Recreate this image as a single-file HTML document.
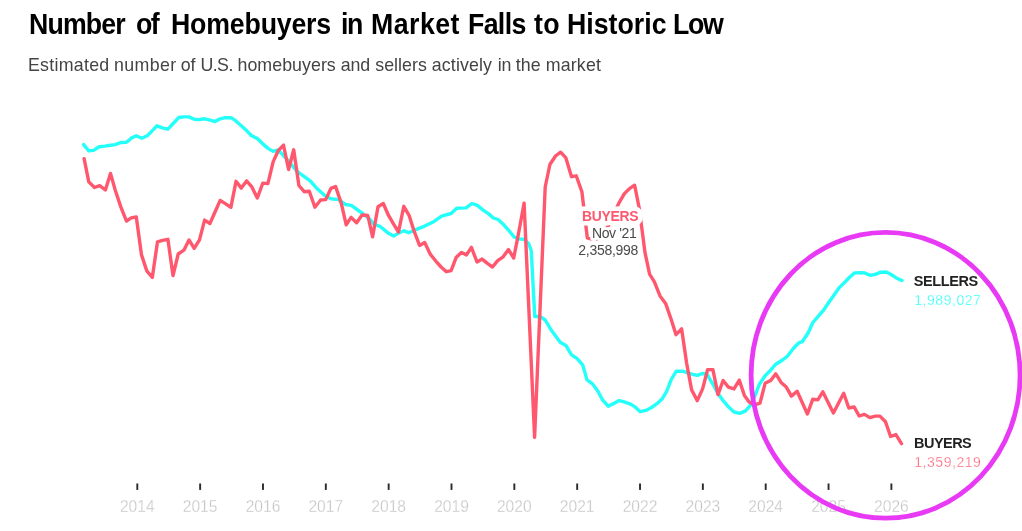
<!DOCTYPE html>
<html><head><meta charset="utf-8"><title>Number of Homebuyers in Market Falls to Historic Low</title>
<style>
html,body{margin:0;padding:0;background:#fff;}
body{width:1022px;height:531px;overflow:hidden;position:relative;font-family:"Liberation Sans",Arial,sans-serif;}
h1{position:absolute;left:0;top:6.6px;margin:0;font-size:29.2px;line-height:34px;font-weight:700;color:#000;white-space:nowrap;width:1022px;height:34px;}
h1 span,p.sub span{position:absolute;top:0;white-space:nowrap;}
h1 span{display:inline-block;transform:scaleX(0.915);transform-origin:0 0;}
p.sub{position:absolute;left:0;top:52.7px;margin:0;font-size:17.8px;line-height:24px;color:#444;white-space:nowrap;width:1022px;height:24px;}
svg{position:absolute;left:0;top:0;}
svg text{font-family:"Liberation Sans",Arial,sans-serif;}
.yr text{font-size:15.6px;fill:#c4c4c4;}
.thin{stroke:#fff;stroke-width:0.3px;}
.halo{paint-order:stroke fill;stroke:#fff;stroke-width:7.6px;stroke-linejoin:round;}
</style></head><body>
<h1><span style="left:28.58px;letter-spacing:-0.907px">Number</span> <span style="left:136.12px;letter-spacing:-1.600px">of</span> <span style="left:171.43px;letter-spacing:-0.194px">Homebuyers</span> <span style="left:340.65px;letter-spacing:-1.585px">in</span> <span style="left:370.80px;letter-spacing:0.525px">Market</span> <span style="left:467.70px;letter-spacing:-0.710px">Falls</span> <span style="left:533.98px;letter-spacing:0.328px">to</span> <span style="left:566.50px;letter-spacing:0.023px">Historic</span> <span style="left:673.30px;letter-spacing:-1.448px">Low</span></h1>
<p class="sub"><span style="left:27.97px;letter-spacing:0.275px">Estimated</span> <span style="left:114.00px;letter-spacing:0.370px">number</span> <span style="left:180.75px;letter-spacing:-0.200px">of</span> <span style="left:200.40px;letter-spacing:-0.550px">U.S.</span> <span style="left:237.50px;letter-spacing:0.044px">homebuyers</span> <span style="left:340.75px;letter-spacing:-0.125px">and</span> <span style="left:375.25px;letter-spacing:0.025px">sellers</span> <span style="left:431.82px;letter-spacing:0.129px">actively</span> <span style="left:497.67px;letter-spacing:-0.200px">in</span> <span style="left:515.78px;letter-spacing:0.025px">the</span> <span style="left:545.70px;letter-spacing:0.180px">market</span></p>
<svg width="1022" height="531" viewBox="0 0 1022 531">
<g class="ticks">
<rect x="136.35" y="483.5" width="1.9" height="6.4" fill="#2a2a2a"/>
<rect x="199.19" y="483.5" width="1.9" height="6.4" fill="#2a2a2a"/>
<rect x="262.03" y="483.5" width="1.9" height="6.4" fill="#2a2a2a"/>
<rect x="324.87" y="483.5" width="1.9" height="6.4" fill="#2a2a2a"/>
<rect x="387.71" y="483.5" width="1.9" height="6.4" fill="#2a2a2a"/>
<rect x="450.55" y="483.5" width="1.9" height="6.4" fill="#2a2a2a"/>
<rect x="513.39" y="483.5" width="1.9" height="6.4" fill="#2a2a2a"/>
<rect x="576.23" y="483.5" width="1.9" height="6.4" fill="#2a2a2a"/>
<rect x="639.07" y="483.5" width="1.9" height="6.4" fill="#2a2a2a"/>
<rect x="701.91" y="483.5" width="1.9" height="6.4" fill="#2a2a2a"/>
<rect x="764.75" y="483.5" width="1.9" height="6.4" fill="#2a2a2a"/>
<rect x="827.59" y="483.5" width="1.9" height="6.4" fill="#2a2a2a"/>
<rect x="890.43" y="483.5" width="1.9" height="6.4" fill="#2a2a2a"/>
</g>
<g class="yr thin">
<text x="137.3" y="512.2" text-anchor="middle">2014</text>
<text x="200.1" y="512.2" text-anchor="middle">2015</text>
<text x="263.0" y="512.2" text-anchor="middle">2016</text>
<text x="325.8" y="512.2" text-anchor="middle">2017</text>
<text x="388.7" y="512.2" text-anchor="middle">2018</text>
<text x="451.5" y="512.2" text-anchor="middle">2019</text>
<text x="514.3" y="512.2" text-anchor="middle">2020</text>
<text x="577.2" y="512.2" text-anchor="middle">2021</text>
<text x="640.0" y="512.2" text-anchor="middle">2022</text>
<text x="702.9" y="512.2" text-anchor="middle">2023</text>
<text x="765.7" y="512.2" text-anchor="middle">2024</text>
<text x="828.5" y="512.2" text-anchor="middle">2025</text>
<text x="891.4" y="512.2" text-anchor="middle">2026</text>
</g>
<path d="M83.6,144.6 L88.8,150.8 L93.5,150.4 L99.2,146.7 L104.8,146.1 L110.5,145.2 L115.2,144.6 L120.8,142.5 L126.5,142.2 L132.1,137.6 L136.3,135.8 L141.9,138.2 L147.2,135.8 L151.9,131.1 L157.0,125.8 L162.2,127.9 L167.9,129.2 L173.2,123.5 L178.8,117.5 L183.9,116.9 L189.0,116.9 L194.2,119.2 L199.5,119.6 L204.6,118.8 L210.2,120.1 L215.0,121.6 L220.2,118.8 L225.3,117.7 L231.0,117.7 L235.6,120.7 L241.3,125.8 L247.0,131.1 L251.6,135.8 L257.3,138.6 L262.5,143.6 L268.0,148.4 L273.2,151.4 L278.2,149.8 L287.6,160.0 L297.0,171.4 L310.2,180.8 L315.9,187.4 L325.3,195.9 L330.9,198.7 L338.5,199.6 L345.6,204.5 L351.3,205.4 L362.6,213.5 L370.1,219.5 L373.9,224.2 L380.5,226.7 L388.9,233.6 L393.6,236.1 L398.4,233.1 L404.0,230.8 L408.7,232.7 L415.3,229.9 L424.7,226.1 L434.1,221.4 L441.6,216.1 L451.1,213.5 L456.7,208.2 L466.1,207.9 L471.8,203.5 L477.4,205.4 L483.1,210.1 L488.7,213.9 L493.4,218.0 L498.1,219.5 L503.8,224.8 L509.4,231.2 L514.1,237.0 L518.8,238.9 L524.1,239.3 L528.8,243.8 L531.2,250.5 L534.8,316.6 L540.0,316.3 L545.2,320.0 L550.8,329.4 L560.2,342.2 L565.9,345.4 L571.5,354.8 L577.2,358.6 L582.8,365.2 L587.0,379.9 L592.2,383.6 L597.9,391.2 L602.6,400.0 L608.2,406.2 L613.9,403.4 L619.0,400.6 L624.2,401.9 L629.9,403.8 L634.6,406.6 L640.2,411.7 L645.9,410.4 L651.5,407.5 L657.2,403.4 L662.3,398.7 L666.6,391.5 L671.3,379.3 L676.3,371.2 L682.4,371.1 L687.9,372.9 L692.6,374.4 L697.3,375.4 L702.0,373.5 L706.7,373.9 L712.4,383.3 L718.0,393.6 L723.6,401.2 L728.4,406.8 L734.0,411.9 L739.6,413.4 L745.3,411.2 L750.0,405.9 L754.7,396.5 L759.4,384.2 L765.1,375.8 L770.7,370.1 L775.4,364.5 L782.9,359.8 L787.6,356.0 L793.3,348.5 L798.9,342.8 L802.6,341.3 L808.2,332.8 L812.9,322.5 L818.6,315.9 L824.2,309.3 L828.9,302.3 L834.6,294.2 L839.3,287.6 L845.0,282.0 L849.6,277.3 L854.4,273.0 L860.0,272.6 L864.7,273.0 L870.4,275.4 L876.0,274.1 L880.7,272.2 L886.4,272.0 L891.1,274.5 L896.7,278.2 L902.0,280.5" fill="none" stroke="#24fff9" stroke-width="3.4" stroke-linejoin="round" stroke-linecap="round"/>
<path d="M84.1,158.7 L88.8,181.9 L94.5,187.5 L99.7,185.6 L105.4,190.0 L110.5,173.4 L115.2,190.0 L120.8,206.9 L126.5,221.1 L131.2,217.9 L136.3,216.9 L141.5,254.9 L146.8,270.9 L152.3,277.5 L157.5,241.8 L162.6,240.4 L167.9,239.3 L173.0,275.6 L178.2,254.0 L183.9,250.2 L189.0,239.9 L194.2,248.4 L199.5,239.9 L204.6,220.1 L209.9,223.5 L214.9,212.2 L220.2,200.4 L225.3,203.6 L230.9,207.3 L236.0,181.3 L241.3,188.1 L246.6,180.9 L251.6,186.6 L257.3,198.0 L262.8,183.1 L267.9,183.6 L273.2,161.6 L278.2,150.7 L283.5,145.1 L288.6,169.5 L293.7,149.8 L298.9,185.5 L304.2,191.7 L309.3,191.2 L314.9,207.2 L320.6,200.0 L325.7,199.6 L330.9,188.4 L335.6,186.5 L341.3,203.4 L346.2,224.8 L351.1,217.4 L356.6,222.8 L362.1,215.0 L367.8,215.5 L372.6,236.8 L378.0,206.8 L383.3,203.5 L388.4,215.2 L393.6,224.2 L398.5,232.0 L403.8,206.3 L409.2,215.7 L414.2,231.4 L419.6,245.5 L424.7,242.5 L430.4,254.4 L436.0,261.3 L441.1,267.0 L446.4,271.7 L451.1,270.7 L456.3,257.2 L461.4,252.5 L466.5,254.9 L471.4,247.4 L477.0,261.9 L482.1,259.1 L487.4,263.4 L492.5,267.0 L497.7,260.6 L502.8,257.2 L508.5,249.6 L513.7,258.0 L518.8,232.0 L524.1,203.1 L534.6,437.3 L545.2,187.0 L549.9,164.5 L555.5,156.0 L560.6,152.2 L565.9,157.9 L571.5,176.7 L576.2,175.8 L581.9,191.8 L587.3,237.8 L592.5,239.4 L597.8,238.8 L603.0,233.0 L608.5,225.5 L614.2,213.0 L619.3,202.3 L624.4,193.6 L629.5,188.6 L634.6,185.2 L639.2,208.0 L645.0,252.6 L649.6,274.2 L654.4,281.8 L660.0,295.9 L665.6,303.4 L671.3,319.8 L676.0,334.7 L681.6,328.8 L686.6,363.0 L691.6,389.9 L697.3,400.6 L702.6,388.9 L707.6,369.6 L712.9,369.6 L718.0,394.6 L723.1,380.5 L728.4,387.1 L734.0,388.9 L739.3,380.1 L744.4,395.5 L749.1,402.1 L754.7,404.9 L760.0,403.1 L765.1,383.3 L770.7,380.5 L775.8,373.9 L781.1,382.4 L786.3,387.1 L791.4,396.1 L797.1,391.2 L807.4,414.0 L812.7,399.3 L817.8,399.9 L822.8,391.8 L833.4,413.0 L843.7,393.3 L848.8,408.0 L854.1,406.9 L859.2,416.0 L864.4,414.4 L869.9,417.6 L875.2,416.1 L879.9,416.1 L885.5,421.8 L890.6,436.5 L895.9,434.6 L901.5,443.6" fill="none" stroke="#ff586e" stroke-width="3.4" stroke-linejoin="round" stroke-linecap="round"/>
<g class="ann" text-anchor="end">
<text class="halo" style="stroke-width:9.2px" x="638.2" y="220.9" font-size="13.9" font-weight="700" letter-spacing="-0.3" fill="#ff586e">BUYERS</text>
<text class="halo" style="stroke-width:5.8px" x="636.5" y="237.7" font-size="14" letter-spacing="-0.35" fill="#4a4a4a">Nov '21</text>
<text class="halo" x="638.1" y="254.6" font-size="14" letter-spacing="-0.28" fill="#4a4a4a">2,358,998</text>
</g>
<g class="lab">
<text x="913.8" y="285.5" font-size="14.5" font-weight="700" letter-spacing="-0.4" fill="#222">SELLERS</text>
<text class="thin" x="914.2" y="304.6" font-size="14" letter-spacing="0.55" fill="#24fff9">1,989,027</text>
<text x="914.1" y="448" font-size="14.5" font-weight="700" letter-spacing="-0.55" fill="#222">BUYERS</text>
<text class="thin" x="914.2" y="466.8" font-size="14" letter-spacing="0.55" fill="#ff586e">1,359,219</text>
</g>
<ellipse cx="885.6" cy="375.3" rx="134.5" ry="142.9" fill="none" stroke="#e83af5" stroke-width="4.8"/>
</svg>
</body></html>
